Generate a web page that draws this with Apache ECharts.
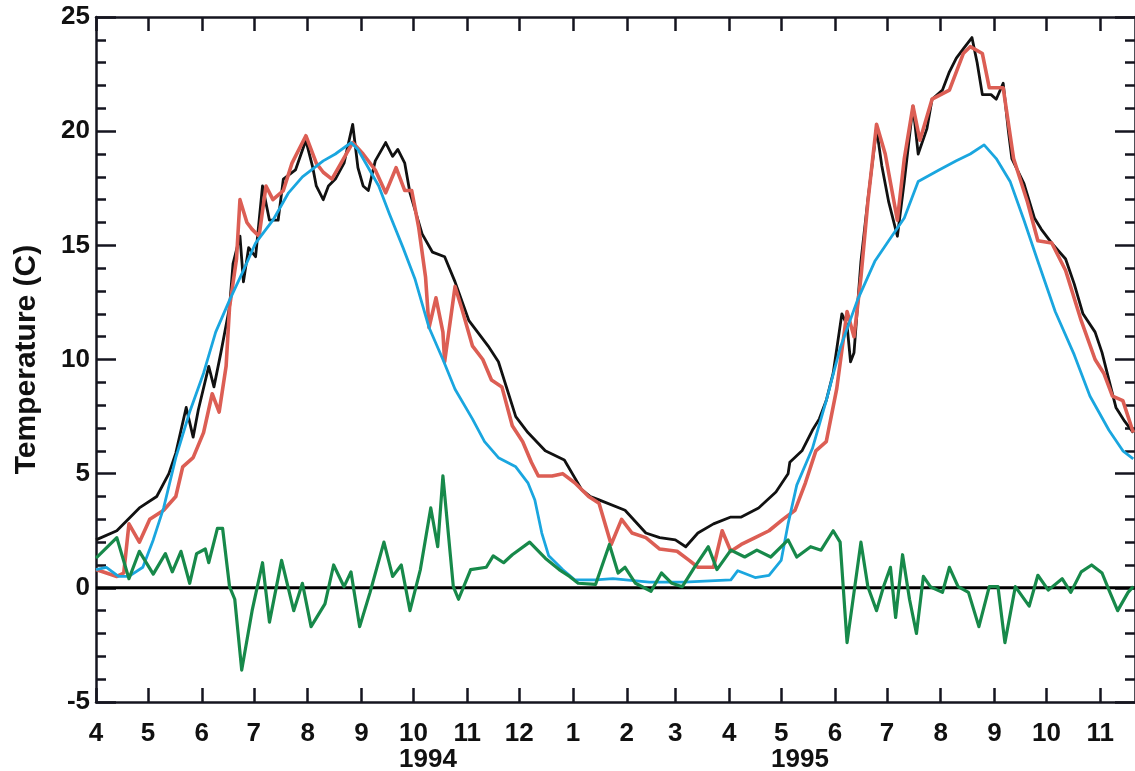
<!DOCTYPE html>
<html><head><meta charset="utf-8">
<script src="https://cdn.jsdelivr.net/npm/echarts@6/dist/echarts.min.js"></script>
<style>html,body{margin:0;padding:0;background:#fff}#c{width:1135px;height:771px}</style>
</head><body><div id="c"></div>
<script>
// x = days since 1 April 1994
const monthStartDays = [0,30,61,91,122,153,183,214,244,275,306,334,365,395,426,456,487,518,548,579];
const monthLabels = ['4','5','6','7','8','9','10','11','12','1','2','3','4','5','6','7','8','9','10','11'];
const yearLabels = ['1994','1995'];

const observed = [[0,2.1],[12,2.5],[25,3.5],[35,4.0],[42,5.0],[46,5.9],[52,7.9],[56,6.6],[59,7.8],[65,9.7],[68,8.8],[72,10.3],[77,12.3],[79,14.2],[83,15.4],[85,13.4],[88,14.9],[92,14.5],[96,17.6],[100,16.1],[105,16.1],[108,17.9],[115,18.3],[121,19.6],[125,18.4],[127,17.6],[131,17.0],[134,17.6],[138,17.9],[143,18.6],[148,20.3],[151,18.4],[154,17.6],[157,17.4],[161,18.7],[167,19.5],[171,18.9],[174,19.2],[178,18.6],[181,17.3],[188,15.5],[194,14.7],[201,14.5],[207,13.4],[215,11.7],[226,10.6],[232,9.9],[242,7.5],[249,6.8],[259,6.0],[270,5.6],[280,4.3],[285,4.0],[290,3.85],[305,3.4],[317,2.4],[325,2.2],[334,2.1],[340,1.8],[347,2.4],[356,2.8],[366,3.1],[372,3.1],[382,3.5],[392,4.2],[399,5.0],[400,5.5],[407,6.0],[413,6.9],[417,7.4],[421,8.2],[425,9.4],[430,12.0],[433,11.5],[435,9.9],[437,10.3],[441,14.3],[445,17.0],[450,20.1],[453,18.5],[457,16.9],[462,15.4],[466,17.8],[471,21.1],[474,19.0],[479,20.1],[482,21.4],[488,21.8],[492,22.6],[496,23.2],[500,23.6],[505,24.1],[508,23.0],[511,21.6],[516,21.6],[519,21.4],[523,22.1],[526,20.0],[528,18.8],[535,17.7],[541,16.2],[545,15.7],[551,15.1],[559,14.4],[564,13.3],[569,12.0],[576,11.2],[580,10.3],[584,9.1],[588,7.9],[593,7.3],[598,6.8]];

const modelRed = [[0,0.8],[12,0.5],[16,0.65],[19,2.8],[25,2.0],[31,3.0],[39,3.4],[46,4.0],[50,5.3],[56,5.7],[62,6.8],[67,8.5],[71,7.7],[75,9.7],[77,12.3],[81,14.4],[83,17.0],[87,16.0],[90,15.7],[94,15.4],[98,17.6],[102,17.0],[108,17.4],[113,18.6],[121,19.8],[127,18.6],[131,18.2],[136,17.9],[142,18.7],[148,19.5],[154,19.0],[161,18.3],[167,17.3],[173,18.4],[178,17.4],[182,17.4],[186,15.8],[190,13.6],[192,11.4],[196,12.7],[200,11.2],[201,9.9],[207,13.2],[211,12.2],[217,10.6],[223,10.0],[228,9.1],[234,8.8],[240,7.1],[246,6.4],[251,5.5],[255,4.9],[263,4.9],[269,5.0],[276,4.6],[284,4.0],[290,3.7],[297,1.9],[303,3.0],[309,2.4],[317,2.2],[325,1.7],[335,1.6],[342,1.2],[347,0.9],[356,0.9],[361,2.5],[366,1.6],[372,1.9],[380,2.2],[388,2.5],[396,3.0],[403,3.4],[409,4.6],[415,6.0],[421,6.4],[427,8.7],[433,12.1],[437,11.0],[441,13.6],[445,16.9],[450,20.3],[455,19.0],[462,16.1],[466,18.8],[471,21.1],[475,19.6],[482,21.4],[492,21.8],[500,23.4],[504,23.7],[511,23.4],[515,21.9],[523,21.9],[529,18.8],[537,16.9],[543,15.2],[551,15.1],[559,13.9],[568,11.7],[576,10.0],[581,9.4],[586,8.4],[592,8.2],[598,6.8]];

const modelBlue = [[0,0.8],[6,0.9],[13,0.5],[19,0.5],[27,0.9],[33,2.1],[39,3.5],[46,5.7],[54,7.7],[62,9.4],[69,11.2],[77,12.6],[85,13.9],[92,15.1],[102,16.1],[111,17.3],[119,18.0],[131,18.7],[138,19.0],[147,19.5],[151,19.2],[157,18.4],[163,17.6],[169,16.4],[177,14.9],[184,13.5],[192,11.4],[200,10.0],[207,8.7],[217,7.4],[224,6.4],[232,5.7],[242,5.3],[249,4.6],[253,3.85],[257,2.4],[261,1.4],[269,0.8],[276,0.35],[288,0.35],[298,0.4],[319,0.25],[339,0.25],[366,0.35],[370,0.75],[380,0.45],[388,0.55],[395,1.2],[399,2.8],[404,4.5],[413,6.1],[421,8.2],[429,10.5],[439,12.6],[449,14.3],[457,15.2],[466,16.2],[474,17.8],[486,18.3],[496,18.7],[504,19.0],[512,19.4],[519,18.8],[527,17.8],[535,16.1],[543,14.3],[553,12.1],[564,10.2],[573,8.4],[584,6.9],[592,6.0],[598,5.65]];

const difference = [[0,1.3],[12,2.2],[19,0.4],[25,1.6],[33,0.6],[40,1.5],[44,0.7],[49,1.6],[54,0.2],[58,1.5],[63,1.7],[65,1.1],[70,2.6],[73,2.6],[77,0.05],[80,-0.5],[84,-3.6],[90,-1.0],[96,1.1],[100,-1.5],[107,1.2],[114,-1.0],[119,0.2],[124,-1.7],[132,-0.7],[137,1.0],[143,0.05],[147,0.7],[152,-1.7],[158,-0.2],[166,2.0],[171,0.5],[176,1.0],[181,-1.0],[187,0.8],[193,3.5],[197,1.8],[200,4.9],[206,0.05],[209,-0.5],[216,0.8],[225,0.9],[229,1.4],[235,1.1],[240,1.45],[250,2.0],[259,1.3],[267,0.8],[273,0.5],[278,0.2],[288,0.15],[296,1.9],[301,0.65],[305,0.9],[311,0.2],[320,-0.15],[326,0.65],[332,0.2],[338,0.05],[345,0.9],[353,1.8],[358,0.8],[366,1.65],[374,1.35],[381,1.65],[389,1.35],[399,2.1],[404,1.35],[412,1.8],[418,1.65],[425,2.5],[429,2.0],[433,-2.4],[437,-0.2],[441,2.0],[445,0.05],[450,-1.0],[454,0.05],[458,0.9],[461,-1.3],[465,1.45],[469,-0.5],[473,-2.0],[477,0.5],[481,0.05],[488,-0.2],[492,0.9],[497,0.05],[503,-0.2],[509,-1.7],[515,0.05],[520,0.05],[524,-2.4],[530,0.05],[538,-0.8],[543,0.55],[549,-0.1],[557,0.4],[562,-0.2],[568,0.7],[574,1.0],[580,0.65],[584,-0.1],[589,-1.0],[595,-0.2],[598,0.05]];

const X_MIN = 0, X_MAX = 599, Y_MIN = -5, Y_MAX = 25;
const AX = '#15151f';
const FONT = '"Liberation Sans", Arial, Helvetica, sans-serif';

const chart = echarts.init(document.getElementById('c'), null, {renderer: 'canvas'});

function xAxisCfg(pos, showLabel) {
  return {
    type: 'value', position: pos, min: X_MIN, max: X_MAX,
    axisLine: {show: true, onZero: false, lineStyle: {color: AX, width: 2.5}},
    axisTick: {show: true, inside: true, length: 14, customValues: monthStartDays, lineStyle: {color: AX, width: 2.5}},
    axisLabel: {show: showLabel, customValues: monthStartDays, margin: 19,
      formatter: v => monthLabels[monthStartDays.indexOf(v)],
      color: '#111', fontSize: 26, fontWeight: 'bold', fontFamily: FONT},
    splitLine: {show: false}
  };
}
function yAxisCfg(pos, showLabel) {
  return {
    type: 'value', position: pos, min: Y_MIN, max: Y_MAX, interval: 5,
    name: showLabel ? 'Temperature (C)' : '', nameLocation: 'middle', nameGap: 54,
    nameTextStyle: {color: '#111', fontSize: 30, fontWeight: 'bold', fontFamily: FONT},
    axisLine: {show: true, onZero: false, lineStyle: {color: AX, width: 2.5}},
    axisTick: {show: true, inside: true, length: 20, lineStyle: {color: AX, width: 2.5}},
    minorTick: {show: true, splitNumber: 5, length: 10, lineStyle: {color: AX, width: 2.5}},
    axisLabel: {show: showLabel, margin: 6, color: '#111', fontSize: 26, fontWeight: 'bold', fontFamily: FONT},
    splitLine: {show: false}, minorSplitLine: {show: false}
  };
}

const lineSeries = (name, data, color, width) => ({
  name, type: 'line', data, xAxisIndex: 0, yAxisIndex: 0,
  showSymbol: false, symbol: 'none', smooth: false,
  lineStyle: {color, width, join: 'round'}, z: 3
});

chart.setOption({
  animation: false,
  backgroundColor: '#fff',
  grid: {left: 96, top: 17, right: -2, bottom: 69, containLabel: false},
  xAxis: [xAxisCfg('bottom', true), xAxisCfg('top', false)],
  yAxis: [yAxisCfg('left', true), yAxisCfg('right', false)],
  series: [
    {name: 'zero', type: 'line', data: [[X_MIN, 0], [X_MAX, 0]], symbol: 'none',
     lineStyle: {color: '#000', width: 3}, z: 2},
    lineSeries('observed', observed, '#111111', 2.8),
    lineSeries('model A', modelRed, '#dc5e54', 3.6),
    lineSeries('model B', modelBlue, '#1aa6df', 2.8),
    lineSeries('difference', difference, '#17894a', 3.2)
  ],
  graphic: [
    {type: 'text', left: 399, top: 747, style: {text: yearLabels[0], font: 'bold 26px ' + FONT, fill: '#111'}},
    {type: 'text', left: 771, top: 747, style: {text: yearLabels[1], font: 'bold 26px ' + FONT, fill: '#111'}}
  ]
});
</script>
</body></html>
